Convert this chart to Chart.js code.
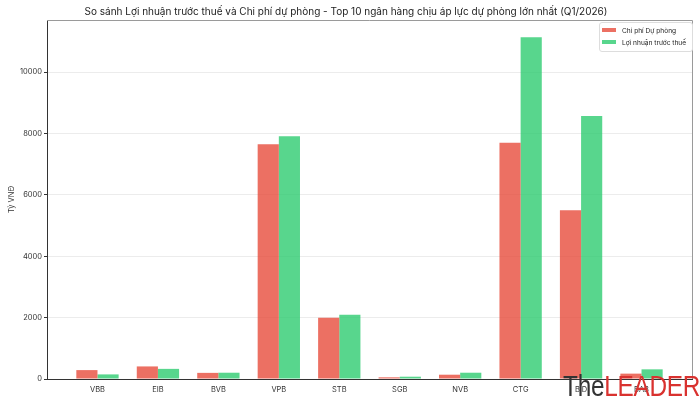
<!DOCTYPE html>
<html lang="vi">
<head>
<meta charset="UTF-8">
<title>Lợi nhuận trước thuế và Chi phí dự phòng</title>
<script src="https://cdn.jsdelivr.net/npm/chart.js"></script>
<style>
    body { margin: 0; background: #fff; }
    #wrap { position: relative; width: 700px; height: 400px; overflow: hidden; }
    #legend {
        position: absolute; left: 599px; top: 22px; width: 88px;
        padding: 2px 2px 2px 2px;
        border: 1px solid #ddd; border-radius: 3px; background: rgba(255,255,255,0.85);
        font-family: 'Inter', 'Noto Sans', sans-serif; font-size: 6.6px; color: #222;
    }
    #legend div { height: 12px; line-height: 12px; white-space: nowrap; }
    #legend span.sw { display: inline-block; width: 14px; height: 4px; margin-right: 6px; vertical-align: 1px; }
    #logo {
        position: absolute; left: 563px; top: 370px; white-space: nowrap;
        font-family: 'Liberation Sans', sans-serif;
        font-size: 29px; line-height: 32px; letter-spacing: -0.3px;
        transform: scaleX(0.84); transform-origin: left top;
    }
</style>
</head>
<body>
<div id="wrap">
    <canvas id="chart" width="700" height="400"></canvas>
    <div id="legend"></div>
    <div id="logo"><span style="color:#333">The</span><span style="color:#d9322f">LEADER</span></div>
</div>
<script>
// du lieu (ty VND)
const banks = ['VBB', 'EIB', 'BVB', 'VPB', 'STB', 'SGB', 'NVB', 'CTG', 'BID', 'BAB'];
const provision = [290, 410, 200, 7650, 2000, 55, 140, 7700, 5500, 175];
const profit = [150, 330, 205, 7915, 2090, 75, 205, 11140, 8570, 315];
const yTicks = [0, 2000, 4000, 6000, 8000, 10000];

const seriesNames = ['Chi phí Dự phòng', 'Lợi nhuận trước thuế'];
const seriesColors = ['rgba(231, 76, 60, 0.8)', 'rgba(46, 204, 113, 0.8)'];

const font = "'Inter', 'Noto Sans', sans-serif";

// khung quanh vung ve (tren + phai)
const framePlugin = {
    id: 'frame',
    afterDraw(chart) {
        const a = chart.chartArea, ctx = chart.ctx;
        ctx.save();
        ctx.strokeStyle = '#9a9a9a';
        ctx.lineWidth = 1;
        ctx.beginPath();
        ctx.moveTo(a.left, a.top + 0.5);
        ctx.lineTo(a.right + 0.5, a.top + 0.5);
        ctx.lineTo(a.right + 0.5, a.bottom);
        ctx.stroke();
        ctx.restore();
    }
};

new Chart(document.getElementById('chart'), {
    type: 'bar',
    data: {
        datasets: [
            { label: seriesNames[0], data: provision.map((v, i) => ({ x: i, y: v })), backgroundColor: seriesColors[0] },
            { label: seriesNames[1], data: profit.map((v, i) => ({ x: i, y: v })), backgroundColor: seriesColors[1] }
        ]
    },
    options: {
        responsive: false,
        animation: false,
        categoryPercentage: 0.7,
        barPercentage: 1.0,
        layout: { padding: { left: 0, right: 8, top: 0, bottom: 0 } },
        plugins: {
            legend: { display: false },
            tooltip: { enabled: false },
            title: {
                display: true,
                text: 'So sánh Lợi nhuận trước thuế và Chi phí dự phòng - Top 10 ngân hàng chịu áp lực dự phòng lớn nhất (Q1/2026)',
                color: '#222',
                font: { family: font, size: 10, weight: 'normal' },
                padding: { top: 6, bottom: 2 }
            }
        },
        scales: {
            x: {
                type: 'linear',
                offset: false,
                min: -0.835,
                max: 9.835,
                afterBuildTicks: s => { s.ticks = banks.map((b, i) => ({ value: i })); },
                afterFit: s => { s.height = 21; },
                grid: { display: false, drawTicks: true, tickLength: 3, tickColor: '#333' },
                border: { color: '#333', width: 1 },
                ticks: {
                    autoSkip: false, maxRotation: 0, padding: 3,
                    color: '#333', font: { family: font, size: 7.5 },
                    callback: v => banks[v] ?? ''
                }
            },
            y: {
                min: 0,
                max: 11700,
                afterBuildTicks: s => { s.ticks = yTicks.map(v => ({ value: v })); },
                afterFit: s => { s.width = 47; },
                grid: { color: '#ececec', tickLength: 3, tickColor: '#333', drawTicks: true },
                border: { color: '#333', width: 1 },
                ticks: {
                    padding: 2, color: '#333', font: { family: font, size: 7.5 },
                    callback: v => String(v)
                },
                title: {
                    display: true, text: 'Tỷ VNĐ', color: '#333',
                    font: { family: font, size: 7.5 }, padding: { top: 7, bottom: 4 }
                }
            }
        }
    },
    plugins: [framePlugin]
});

// chu thich
document.getElementById('legend').innerHTML = seriesNames.map((n, i) =>
    '<div><span class="sw" style="background:' + seriesColors[i] + '"></span>' + n + '</div>').join('');
</script>
</body>
</html>
